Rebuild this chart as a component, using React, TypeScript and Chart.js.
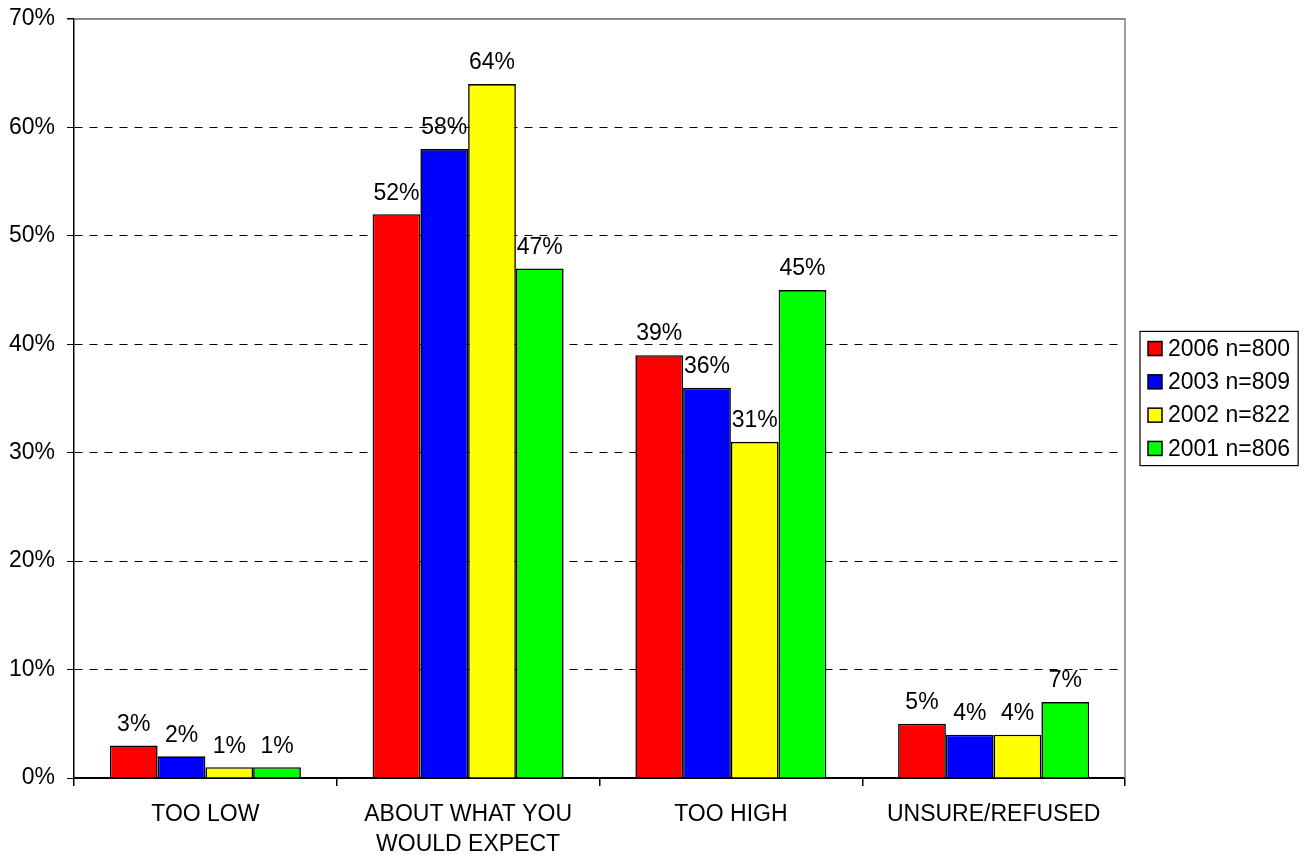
import React, { useEffect, useRef } from "react";
import { Chart, registerables } from "chart.js";

Chart.register(...registerables);

const categories: string[][] = [["TOO LOW"], ["ABOUT WHAT YOU", "WOULD EXPECT"], ["TOO HIGH"], ["UNSURE/REFUSED"]];
const seriesLabels = ["2006 n=800", "2003 n=809", "2002 n=822", "2001 n=806"];
const values2006 = [3, 52, 39, 5];
const values2003 = [2, 58, 36, 4];
const values2002 = [1, 64, 31, 4];
const values2001 = [1, 47, 45, 7];
const seriesColors = ["#FF0000", "#0000FF", "#FFFF00", "#00FF00"];
const yMin = 0;
const yMax = 70;
const yStep = 10;

const FONT = "'Liberation Sans', Arial, Helvetica, sans-serif";
const FS = 23;

const dataLabelPlugin = {
  id: "dataLabels",
  afterDatasetsDraw(chart: any) {
    const ctx = chart.ctx;
    ctx.save();
    ctx.font = `${FS}px ${FONT}`;
    ctx.fillStyle = "#000";
    ctx.textAlign = "center";
    ctx.textBaseline = "middle";
    chart.data.datasets.forEach((ds: any, i: number) => {
      const meta = chart.getDatasetMeta(i);
      meta.data.forEach((bar: any, j: number) => {
        ctx.fillText(ds.data[j] + "%", bar.x, bar.y - 21);
      });
    });
    ctx.restore();
  },
};

const framePlugin = {
  id: "frame",
  beforeDatasetsDraw(chart: any) {
    const { ctx, chartArea } = chart;
    ctx.save();
    ctx.strokeStyle = "#808080";
    ctx.lineWidth = 1.5;
    ctx.beginPath();
    ctx.moveTo(chartArea.left, chartArea.top);
    ctx.lineTo(chartArea.right, chartArea.top);
    ctx.lineTo(chartArea.right, chartArea.bottom);
    ctx.stroke();
    ctx.restore();
  },
};

const legendPlugin = {
  id: "boxLegend",
  afterDraw(chart: any) {
    const { ctx, chartArea } = chart;
    const ds = chart.data.datasets;
    ctx.save();
    ctx.font = `${FS}px ${FONT}`;
    let maxW = 0;
    ds.forEach((d: any) => {
      maxW = Math.max(maxW, ctx.measureText(d.label).width);
    });
    const padL = 8;
    const sw = 14;
    const gap = 6;
    const padR = 8;
    const rowH = 33.3;
    const boxW = padL + sw + gap + maxW + padR;
    const boxH = rowH * ds.length + 1;
    const left = chartArea.right + 15;
    const cy = (chartArea.top + chartArea.bottom) / 2;
    const top = cy - boxH / 2;
    ctx.fillStyle = "#fff";
    ctx.fillRect(left, top, boxW, boxH);
    ctx.strokeStyle = "#000";
    ctx.lineWidth = 1.2;
    ctx.strokeRect(left, top, boxW, boxH);
    ds.forEach((d: any, i: number) => {
      const y = top + rowH * (i + 0.5) + 0.5;
      ctx.fillStyle = d.backgroundColor;
      ctx.fillRect(left + padL, y - sw / 2, sw, sw);
      ctx.strokeStyle = "#000";
      ctx.lineWidth = 1.5;
      ctx.strokeRect(left + padL, y - sw / 2, sw, sw);
      ctx.fillStyle = "#000";
      ctx.textAlign = "left";
      ctx.textBaseline = "middle";
      ctx.fillText(d.label, left + padL + sw + gap, y + 1);
    });
    ctx.restore();
  },
};

export default function App() {
  const canvasRef = useRef<HTMLCanvasElement | null>(null);

  useEffect(() => {
    if (!canvasRef.current) return;
    const seriesValues = [values2006, values2003, values2002, values2001];
    const chart = new Chart(canvasRef.current, {
      type: "bar",
      data: {
        labels: categories,
        datasets: seriesValues.map((vals, i) => ({
          label: seriesLabels[i],
          data: vals,
          backgroundColor: seriesColors[i],
          borderColor: "#000",
          borderWidth: 1.6,
          categoryPercentage: 0.727,
          barPercentage: 1,
        })),
      },
      options: {
        responsive: false,
        animation: false,
        layout: { padding: { top: 19, right: 182, left: 0, bottom: 0 } },
        plugins: {
          legend: { display: false },
          tooltip: { enabled: false },
        },
        scales: {
          x: {
            offset: true,
            afterFit: (scale: any) => {
              scale.height = 77;
              scale.paddingLeft = 0;
              scale.paddingRight = 0;
            },
            grid: {
              offset: true,
              drawOnChartArea: false,
              drawTicks: true,
              tickLength: 8,
              color: "#000",
              tickColor: "#000",
              lineWidth: 1.5,
            },
            border: { display: true, color: "#000", width: 1.5 },
            ticks: {
              color: "#000",
              padding: 14,
              maxRotation: 0,
              autoSkip: false,
              font: { family: FONT, size: FS, lineHeight: 1.3 },
            },
          },
          y: {
            min: yMin,
            max: yMax,
            afterFit: (scale: any) => {
              scale.width = 74;
              scale.paddingTop = 0;
              scale.paddingBottom = 0;
            },
            grid: {
              drawTicks: true,
              tickLength: 7,
              color: (c: any) => (c.tick && c.tick.value === yMax ? "#808080" : "#000"),
              tickColor: "#000",
              lineWidth: (c: any) => (c.tick && c.tick.value === yMax ? 1.5 : 1),
            },
            border: {
              display: true,
              color: "#000",
              width: 1.5,
              dash: (c: any) =>
                c.tick && c.tick.value !== yMin && c.tick.value !== yMax ? [8, 7] : [],
            },
            ticks: {
              stepSize: yStep,
              color: "#000",
              padding: 12,
              font: { family: FONT, size: FS },
              callback: (v: any) => v + "%",
            },
          },
        },
      },
      plugins: [framePlugin, dataLabelPlugin, legendPlugin],
    } as any);
    return () => chart.destroy();
  }, []);

  return (
    <div style={{ position: "absolute", left: 0, top: 0, width: 1307, height: 855, background: "#fff" }}>
      <canvas ref={canvasRef} width={1307} height={855} style={{ display: "block" }} />
    </div>
  );
}
